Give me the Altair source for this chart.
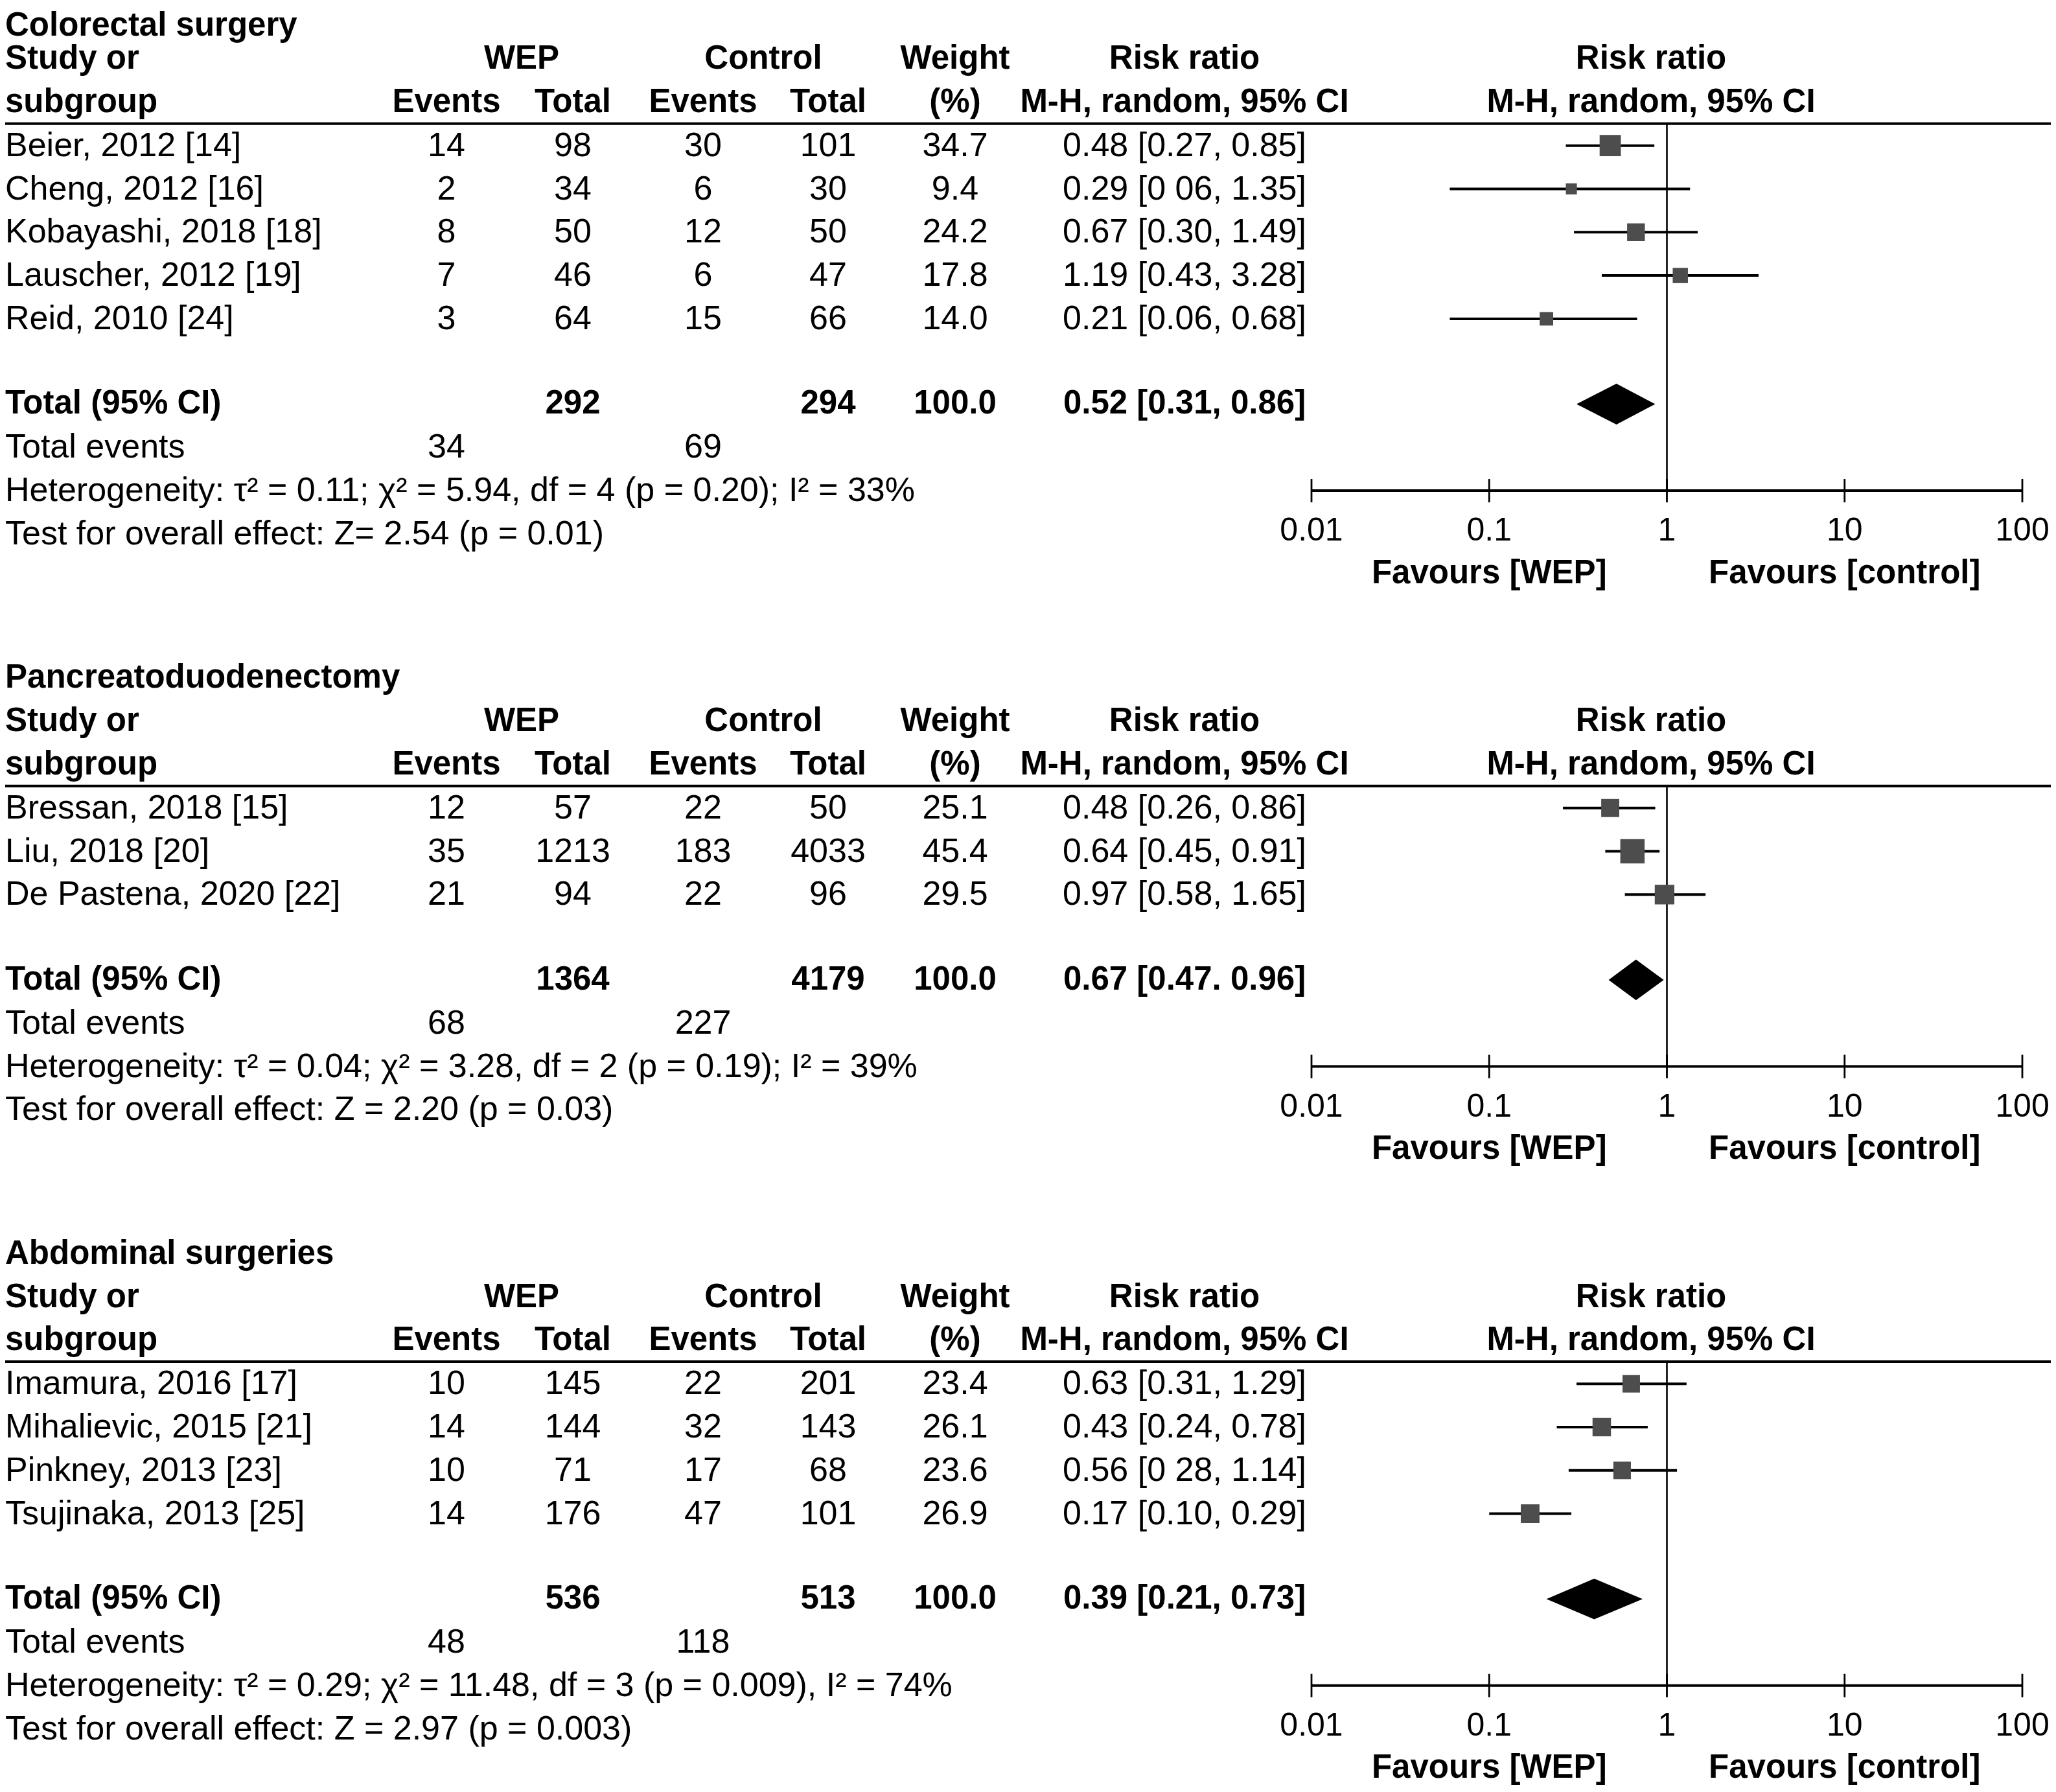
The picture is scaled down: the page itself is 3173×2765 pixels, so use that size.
import altair as alt
import pandas as pd

# ---------------- data ----------------
TITLES = ["Colorectal surgery", "Pancreatoduodenectomy", "Abdominal surgeries"]

S1_STUDY = ["Beier, 2012 [14]", "Cheng, 2012 [16]", "Kobayashi, 2018 [18]", "Lauscher, 2012 [19]", "Reid, 2010 [24]"]
S1_WEP_EV = [14, 2, 8, 7, 3]
S1_WEP_TOT = [98, 34, 50, 46, 64]
S1_CTL_EV = [30, 6, 12, 6, 15]
S1_CTL_TOT = [101, 30, 50, 47, 66]
S1_WEIGHT = ["34.7", "9.4", "24.2", "17.8", "14.0"]
S1_RR = [0.48, 0.29, 0.67, 1.19, 0.21]
S1_LO = [0.27, 0.06, 0.30, 0.43, 0.06]
S1_HI = [0.85, 1.35, 1.49, 3.28, 0.68]
S1_RR_TXT = ["0.48 [0.27, 0.85]", "0.29 [0 06, 1.35]", "0.67 [0.30, 1.49]", "1.19 [0.43, 3.28]", "0.21 [0.06, 0.68]"]
S1_TOTAL = ["292", "294", "100.0", "0.52 [0.31, 0.86]"]
S1_POOLED = [0.52, 0.31, 0.86]
S1_EVENTS = ["34", "69"]
S1_HET = "Heterogeneity: τ² = 0.11; χ² = 5.94, df = 4 (p = 0.20); I² = 33%"
S1_TEST = "Test for overall effect:  Z= 2.54 (p = 0.01)"

S2_STUDY = ["Bressan, 2018 [15]", "Liu, 2018 [20]", "De Pastena, 2020 [22]"]
S2_WEP_EV = [12, 35, 21]
S2_WEP_TOT = [57, 1213, 94]
S2_CTL_EV = [22, 183, 22]
S2_CTL_TOT = [50, 4033, 96]
S2_WEIGHT = ["25.1", "45.4", "29.5"]
S2_RR = [0.48, 0.64, 0.97]
S2_LO = [0.26, 0.45, 0.58]
S2_HI = [0.86, 0.91, 1.65]
S2_RR_TXT = ["0.48 [0.26, 0.86]", "0.64 [0.45, 0.91]", "0.97 [0.58, 1.65]"]
S2_TOTAL = ["1364", "4179", "100.0", "0.67 [0.47. 0.96]"]
S2_POOLED = [0.67, 0.47, 0.96]
S2_EVENTS = ["68", "227"]
S2_HET = "Heterogeneity: τ² = 0.04; χ² = 3.28, df = 2 (p = 0.19); I² = 39%"
S2_TEST = "Test for overall effect: Z = 2.20 (p = 0.03)"

S3_STUDY = ["Imamura, 2016 [17]", "Mihalievic, 2015 [21]", "Pinkney, 2013 [23]", "Tsujinaka, 2013 [25]"]
S3_WEP_EV = [10, 14, 10, 14]
S3_WEP_TOT = [145, 144, 71, 176]
S3_CTL_EV = [22, 32, 17, 47]
S3_CTL_TOT = [201, 143, 68, 101]
S3_WEIGHT = ["23.4", "26.1", "23.6", "26.9"]
S3_RR = [0.63, 0.43, 0.56, 0.17]
S3_LO = [0.31, 0.24, 0.28, 0.10]
S3_HI = [1.29, 0.78, 1.14, 0.29]
S3_RR_TXT = ["0.63 [0.31, 1.29]", "0.43 [0.24, 0.78]", "0.56 [0 28, 1.14]", "0.17 [0.10, 0.29]"]
S3_TOTAL = ["536", "513", "100.0", "0.39 [0.21, 0.73]"]
S3_POOLED = [0.39, 0.21, 0.73]
S3_EVENTS = ["48", "118"]
S3_HET = "Heterogeneity: τ² = 0.29; χ² = 11.48, df = 3 (p = 0.009), I² = 74%"
S3_TEST = "Test for overall effect: Z = 2.97 (p = 0.003)"

HEAD1 = {"study": "Study or", "wep_hdr": "WEP", "ctl_hdr": "Control", "weight": "Weight",
         "rr": "Risk ratio", "fhead": "Risk ratio"}
HEAD2 = {"study": "subgroup", "wep_ev": "Events", "wep_tot": "Total", "ctl_ev": "Events",
         "ctl_tot": "Total", "weight": "(%)", "rr": "M-H, random, 95% CI", "fhead": "M-H, random, 95% CI"}
TICKS = [0.01, 0.1, 1, 10, 100]
TICK_LABELS = ["0.01", "0.1", "1", "10", "100"]
FAVOURS = [(0.1, "Favours [WEP]"), (10, "Favours [control]")]

SECS = [
    dict(title=TITLES[0], study=S1_STUDY, we=S1_WEP_EV, wt=S1_WEP_TOT, ce=S1_CTL_EV, ct=S1_CTL_TOT,
         w=S1_WEIGHT, rr=S1_RR, lo=S1_LO, hi=S1_HI, rrt=S1_RR_TXT, tot=S1_TOTAL, pooled=S1_POOLED,
         ev=S1_EVENTS, het=S1_HET, test=S1_TEST),
    dict(title=TITLES[1], study=S2_STUDY, we=S2_WEP_EV, wt=S2_WEP_TOT, ce=S2_CTL_EV, ct=S2_CTL_TOT,
         w=S2_WEIGHT, rr=S2_RR, lo=S2_LO, hi=S2_HI, rrt=S2_RR_TXT, tot=S2_TOTAL, pooled=S2_POOLED,
         ev=S2_EVENTS, het=S2_HET, test=S2_TEST),
    dict(title=TITLES[2], study=S3_STUDY, we=S3_WEP_EV, wt=S3_WEP_TOT, ce=S3_CTL_EV, ct=S3_CTL_TOT,
         w=S3_WEIGHT, rr=S3_RR, lo=S3_LO, hi=S3_HI, rrt=S3_RR_TXT, tot=S3_TOTAL, pooled=S3_POOLED,
         ev=S3_EVENTS, het=S3_HET, test=S3_TEST),
]

# ---------------- layout / style ----------------
FONT = "Liberation Sans"
FS = 52
FS_BOLD = 51
FS_TICK = 50
W, H = 3157, 2747
LINE_PX = 66.8
TOP_PX = 16.3
GAP = 2.39          # blank space between sections (in lines)
TOTAL_GAP = 1.97    # from last study row to total row (in lines)
RULE_L = 2.49
FIRST_TITLE_NUDGE = 0.23
HALF_DIAMOND = 0.47
COL_X = {"study": (0, "left"), "wep_hdr": (797, "center"), "wep_ev": (681, "center"),
         "wep_tot": (876, "center"), "ctl_hdr": (1170, "center"), "ctl_ev": (1077, "center"),
         "ctl_tot": (1270, "center"), "weight": (1466, "center"), "rr": (1820, "center"),
         "fhead": (2540, "center")}
YS = alt.Scale(domain=[-TOP_PX / LINE_PX, (H - TOP_PX) / LINE_PX], reverse=True, nice=False, zero=False)
XS = alt.Scale(type="log", domain=[0.01, 100], range=[2016, 3113], nice=False)

# ---------------- build tables ----------------
texts, studies, diamonds, frames, ticks, favs = [], [], [], [], [], []
off = 0.0
for k, s in enumerate(SECS):
    texts.append((off + (FIRST_TITLE_NUDGE if k == 0 else 0), "study", s["title"], "bold"))
    for c, t in HEAD1.items():
        texts.append((off + 1, c, t, "bold"))
    for c, t in HEAD2.items():
        texts.append((off + 2, c, t, "bold"))
    n = len(s["study"])
    for i in range(n):
        L = off + 3 + i
        for c, t in [("study", s["study"][i]), ("wep_ev", s["we"][i]), ("wep_tot", s["wt"][i]),
                     ("ctl_ev", s["ce"][i]), ("ctl_tot", s["ct"][i]), ("weight", s["w"][i]),
                     ("rr", s["rrt"][i])]:
            texts.append((L, c, str(t), "normal"))
        studies.append(dict(line=L, est=s["rr"][i], lo=s["lo"][i], hi=s["hi"][i],
                            wt=float(s["w"][i])))
    tl = off + 2 + n + TOTAL_GAP
    for c, t in [("study", "Total (95% CI)"), ("wep_tot", s["tot"][0]), ("ctl_tot", s["tot"][1]),
                 ("weight", s["tot"][2]), ("rr", s["tot"][3])]:
        texts.append((tl, c, t, "bold"))
    texts.append((tl + 1, "study", "Total events", "normal"))
    texts.append((tl + 1, "wep_ev", s["ev"][0], "normal"))
    texts.append((tl + 1, "ctl_ev", s["ev"][1], "normal"))
    texts.append((tl + 2, "study", s["het"], "normal"))
    texts.append((tl + 3, "study", s["test"], "normal"))
    est, lo, hi = s["pooled"]
    diamonds += [dict(sec=k, x=lo, y1=tl, y2=tl),
                 dict(sec=k, x=est, y1=tl - HALF_DIAMOND, y2=tl + HALF_DIAMOND),
                 dict(sec=k, x=hi, y1=tl, y2=tl)]
    axis = tl + 2
    frames.append(dict(top=off + RULE_L, axis=axis, one=1, a=TICKS[0], b=TICKS[-1]))
    for tv, tlab in zip(TICKS, TICK_LABELS):
        ticks.append(dict(x=tv, y1=axis - 0.27, y2=axis + 0.27, lab=tlab, ly=axis + 0.93))
    for fx, ft in FAVOURS:
        favs.append(dict(x=fx, t=ft, y=axis + 1.91))
    off = axis + 1.94 + GAP

tdf = pd.DataFrame(texts, columns=["line", "col", "text", "wgt"])
sdf = pd.DataFrame(studies)
ddf = pd.DataFrame(diamonds)
fdf = pd.DataFrame(frames)
kdf = pd.DataFrame(ticks)
vdf = pd.DataFrame(favs)

layers = []
# table text
for col, (px, al) in COL_X.items():
    for wg in ["normal", "bold"]:
        sub = tdf[(tdf.col == col) & (tdf.wgt == wg)]
        if len(sub) == 0:
            continue
        layers.append(alt.Chart(sub).mark_text(font=FONT, fontSize=FS if wg == "normal" else FS_BOLD,
                                               fontWeight=wg, align=al,
                                               baseline="middle", color="black").encode(
            x=alt.value(px), y=alt.Y("line:Q", scale=YS, axis=None), text="text:N"))

# header rule
layers.append(alt.Chart(fdf).mark_rule(color="black", strokeWidth=4).encode(
    x=alt.value(0), x2=alt.value(W), y=alt.Y("top:Q", scale=YS, axis=None)))
# null line
layers.append(alt.Chart(fdf).mark_rule(color="black", strokeWidth=2.6).encode(
    x=alt.X("one:Q", scale=XS, axis=None), y=alt.Y("top:Q", scale=YS, axis=None), y2="axis:Q"))
# axis line
layers.append(alt.Chart(fdf).mark_rule(color="black", strokeWidth=4).encode(
    x=alt.X("a:Q", scale=XS, axis=None), x2="b:Q", y=alt.Y("axis:Q", scale=YS, axis=None)))
# ticks
layers.append(alt.Chart(kdf).mark_rule(color="black", strokeWidth=2.8).encode(
    x=alt.X("x:Q", scale=XS, axis=None), y=alt.Y("y1:Q", scale=YS, axis=None), y2="y2:Q"))
layers.append(alt.Chart(kdf).mark_text(font=FONT, fontSize=FS_TICK, align="center", baseline="middle",
                                       color="black").encode(
    x=alt.X("x:Q", scale=XS, axis=None), y=alt.Y("ly:Q", scale=YS, axis=None), text="lab:N"))
layers.append(alt.Chart(vdf).mark_text(font=FONT, fontSize=FS_BOLD, fontWeight="bold", align="center",
                                       baseline="middle", color="black").encode(
    x=alt.X("x:Q", scale=XS, axis=None), y=alt.Y("y:Q", scale=YS, axis=None), text="t:N"))
# CI lines
layers.append(alt.Chart(sdf).mark_rule(color="black", strokeWidth=4).encode(
    x=alt.X("lo:Q", scale=XS, axis=None), x2="hi:Q", y=alt.Y("line:Q", scale=YS, axis=None)))
# squares
layers.append(alt.Chart(sdf).mark_square(color="#4d4d4d", opacity=1, filled=True).encode(
    x=alt.X("est:Q", scale=XS, axis=None), y=alt.Y("line:Q", scale=YS, axis=None),
    size=alt.Size("wt:Q", scale=alt.Scale(domain=[0, 100], range=[0, 3100], zero=True), legend=None)))
# diamonds
layers.append(alt.Chart(ddf).mark_area(color="black", opacity=1).encode(
    x=alt.X("x:Q", scale=XS, axis=None), y=alt.Y("y1:Q", scale=YS, axis=None), y2="y2:Q",
    detail="sec:N"))

chart = alt.layer(*layers).properties(
    width=W, height=H, padding=0, autosize=alt.AutoSizeParams(type="none")
).configure_view(stroke=None)
chart.save("out.html", embed_options={"renderer": "svg", "actions": False})
